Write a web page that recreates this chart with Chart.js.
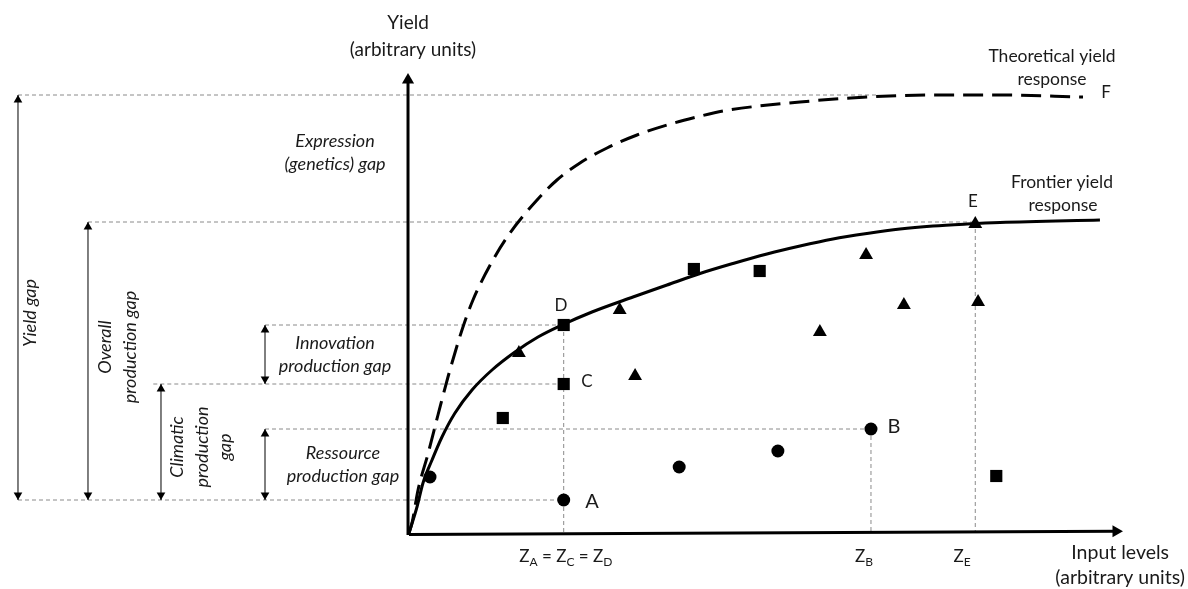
<!DOCTYPE html>
<html><head><meta charset="utf-8">
<script src="https://cdn.jsdelivr.net/npm/chart.js@4"></script>
<style>html,body{margin:0;padding:0;background:#fff}canvas{display:block}</style>
</head><body>
<canvas id="c" width="1188" height="589"></canvas>
<script>
// ---- data (arbitrary units: input level on x, yield on y) ----
const frontierX = [0, 1.14, 2.0, 3.29, 4.71, 6.57, 9.0, 11.86, 15.14, 18.43, 21.86, 26.14, 32.0, 36.86, 41.57, 46.29, 51.14, 55.86, 60.57, 65.43, 70.14, 74.86, 79.71, 84.43, 98.71];
const frontierY = [0, 5.2, 10.0, 14.6, 19.2, 24.0, 28.6, 32.6, 36.2, 39.2, 41.6, 44.2, 47.2, 49.6, 51.9, 53.9, 55.8, 57.4, 58.8, 59.9, 60.8, 61.4, 61.8, 62.1, 62.6];
const theoX = [0, 0.43, 1.29, 2.71, 4.14, 5.57, 7.57, 9.14, 12.0, 14.43, 18.29, 21.14, 24.43, 28.29, 32.57, 36.86, 41.14, 44.86, 55.86, 65.43, 74.86, 84.43, 96.29];
const theoY = [0, 2.0, 8.6, 15.8, 23.6, 31.2, 40.6, 46.6, 54.6, 60.0, 66.6, 70.6, 74.0, 77.0, 79.6, 81.6, 83.2, 84.4, 86.2, 87.2, 87.6, 87.6, 87.2];
const circleX = [3.0, 22.1, 38.6, 52.7, 66.0];
const circleY = [11.2, 6.6, 13.2, 16.4, 20.8];
const squareX = [13.4, 22.1, 22.1, 40.7, 50.1, 83.9];
const squareY = [23.0, 29.8, 41.6, 52.8, 52.4, 11.4];
const triangleX = [15.7, 30.1, 32.3, 58.7, 65.3, 70.7, 80.9, 81.3];
const triangleY = [36.0, 44.6, 31.4, 40.2, 55.6, 45.6, 61.8, 46.2];
// yield levels of reference points
const levelF = 87.6, levelE = 62.2, levelD = 41.6, levelC = 29.8, levelB = 20.8, levelA = 6.6;
// input levels
const zAD = 22.1, zB = 66.0, zE = 80.9;
// axis extents
const xAxisEnd = 102, yAxisEnd = 92;
// gap brackets: [x, from level, to level]
const gapYield = [-55.86, levelA, levelF];
const gapOverall = [-45.86, levelA, levelE];
const gapClimatic = [-35.43, levelA, levelC];
const gapInnovation = [-20.57, levelC, levelD];
const gapResource = [-20.57, levelA, levelB];

const pts = (xs, ys) => xs.map((x, i) => ({x, y: ys[i]}));

const datasets = [];
// axes
datasets.push({data: [{x: 0, y: -0.3}, {x: xAxisEnd - 1, y: 0.35}], showLine: true, borderColor: '#000', borderWidth: 3, pointRadius: [0, 7], pointStyle: 'triangle', pointRotation: 90, backgroundColor: '#000', pointBorderWidth: 0, order: 0});
datasets.push({data: [{x: -0.14, y: -0.4}, {x: -0.14, y: yAxisEnd - 1.4}], showLine: true, borderColor: '#000', borderWidth: 3, pointRadius: [0, 7], pointStyle: 'triangle', pointRotation: 0, backgroundColor: '#000', pointBorderWidth: 0, order: 0});
// curves
datasets.push({data: pts(frontierX, frontierY), showLine: true, borderColor: '#000', borderWidth: 3, pointRadius: 0, cubicInterpolationMode: 'monotone', order: 2});
datasets.push({data: pts(theoX, theoY), showLine: true, borderColor: '#000', borderWidth: 3, borderDash: [20, 9], pointRadius: 0, cubicInterpolationMode: 'monotone', order: 2});
// markers
datasets.push({data: pts(circleX, circleY), pointStyle: 'circle', pointRadius: 6.5, backgroundColor: '#000', pointBorderWidth: 0, order: 1});
datasets.push({data: pts(squareX, squareY), pointStyle: 'rect', pointRadius: 8.6, backgroundColor: '#000', pointBorderWidth: 0, order: 1});
datasets.push({data: pts(triangleX, triangleY), pointStyle: 'triangle', pointRadius: 8, backgroundColor: '#000', pointBorderWidth: 0, order: 1});
// guide lines
const guides = [
  [[gapYield[0], levelF], [67, levelF]],
  [[gapOverall[0], levelE], [zE, levelE]],
  [[gapInnovation[0], levelD], [zAD, levelD]],
  [[gapClimatic[0] - 1.1, levelC], [zAD, levelC]],
  [[gapResource[0], levelB], [zB, levelB]],
  [[gapYield[0], levelA], [zAD, levelA]],
  [[zAD, levelD], [zAD, 0]],
  [[zB, levelB], [zB, 0.2]],
  [[zE, levelE], [zE, 0.3]]
];
guides.forEach(g => datasets.push({data: g.map(p => ({x: p[0], y: p[1]})), showLine: true, borderColor: '#8a8a8a', borderWidth: 1, borderDash: [4, 3], pointRadius: 0, order: 5}));
// gap arrows
[gapYield, gapOverall, gapClimatic, gapInnovation, gapResource].forEach(g => {
  datasets.push({data: [{x: g[0], y: g[1]}, {x: g[0], y: g[2]}], showLine: true, borderColor: '#000', borderWidth: 1, pointRadius: 0, order: 3});
  datasets.push({data: [{x: g[0], y: g[1] + 1}, {x: g[0], y: g[2] - 1}], pointStyle: 'triangle', pointRadius: 5, pointRotation: [180, 0], backgroundColor: '#000', pointBorderWidth: 0, order: 3});
});

// ---- text annotations (positions in data units) ----
const FONT = 'Lato, "Open Sans", sans-serif';
const texts = [
  {t: 'Yield', x: -0.14, y: 102, s: 19},
  {t: '(arbitrary units)', x: 0.57, y: 96.6, s: 19},
  {t: 'Input levels', x: 101.6, y: -4.0, s: 19.5},
  {t: '(arbitrary units)', x: 101.6, y: -9.0, s: 19.5},
  {t: 'Theoretical yield', x: 91.86, y: 95.4, s: 17.5},
  {t: 'response', x: 91.86, y: 90.8, s: 17.5},
  {t: 'Frontier yield', x: 93.29, y: 70.2, s: 17.5},
  {t: 'response', x: 93.43, y: 65.6, s: 17.5},
  {t: 'F', x: 99.57, y: 88.0, s: 17},
  {t: 'E', x: 80.57, y: 66.2, s: 17},
  {t: 'D', x: 21.71, y: 45.4, s: 17},
  {t: 'C', x: 25.43, y: 30.2, s: 17},
  {t: 'A', x: 26.14, y: 6.2, s: 20},
  {t: 'B', x: 69.29, y: 21.2, s: 20},
  {t: 'Expression', x: -10.57, y: 78.4, s: 18, i: true},
  {t: '(genetics) gap', x: -10.57, y: 73.8, s: 18, i: true},
  {t: 'Innovation', x: -10.57, y: 38.0, s: 18, i: true},
  {t: 'production gap', x: -10.57, y: 33.4, s: 18, i: true},
  {t: 'Ressource', x: -9.43, y: 16.0, s: 18, i: true},
  {t: 'production gap', x: -9.43, y: 11.4, s: 18, i: true},
  {t: 'Yield gap', x: -54.14, y: 44.0, s: 18, i: true, r: true},
  {t: 'Overall', x: -43.43, y: 37.2, s: 18, i: true, r: true},
  {t: 'production gap', x: -39.86, y: 37.2, s: 18, i: true, r: true},
  {t: 'Climatic', x: -33.14, y: 17.2, s: 18, i: true, r: true},
  {t: 'production', x: -29.57, y: 17.2, s: 18, i: true, r: true},
  {t: 'gap', x: -26.29, y: 17.2, s: 18, i: true, r: true}
];
const richTexts = [
  {parts: [['Z'], ['A', 1], [' = Z'], ['C', 1], [' = Z'], ['D', 1]], x: zAD + 0.3, y: -4.8, s: 17},
  {parts: [['Z'], ['B', 1]], x: zB - 1.0, y: -4.8, s: 17},
  {parts: [['Z'], ['E', 1]], x: zE - 1.9, y: -4.8, s: 17}
];

const textPlugin = {
  id: 'texts',
  afterDraw(chart) {
    const ctx = chart.ctx, xs = chart.scales.x, ys = chart.scales.y;
    ctx.save();
    ctx.fillStyle = '#1a1a1a';
    ctx.textAlign = 'center';
    ctx.textBaseline = 'middle';
    texts.forEach(o => {
      const px = xs.getPixelForValue(o.x), py = ys.getPixelForValue(o.y);
      ctx.font = (o.i ? 'italic ' : '') + o.s + 'px ' + FONT;
      if (o.r) {
        ctx.save(); ctx.translate(px, py); ctx.rotate(-Math.PI / 2); ctx.fillText(o.t, 0, 0); ctx.restore();
      } else ctx.fillText(o.t, px, py);
    });
    ctx.textAlign = 'left';
    richTexts.forEach(o => {
      const big = o.s + 'px ' + FONT, small = Math.round(o.s * 0.68) + 'px ' + FONT;
      let w = 0;
      o.parts.forEach(p => { ctx.font = p[1] ? small : big; w += ctx.measureText(p[0]).width; });
      let cx = xs.getPixelForValue(o.x) - w / 2; const py = ys.getPixelForValue(o.y);
      o.parts.forEach(p => {
        ctx.font = p[1] ? small : big;
        ctx.fillText(p[0], cx, py + (p[1] ? o.s * 0.32 : 0));
        cx += ctx.measureText(p[0]).width;
      });
    });
    ctx.restore();
  }
};

function build() {
  new Chart(document.getElementById('c'), {
    type: 'scatter',
    data: {datasets},
    options: {
      responsive: false, animation: false, devicePixelRatio: 1,
      layout: {padding: 0, autoPadding: false},
      plugins: {legend: {display: false}, tooltip: {enabled: false}},
      scales: {
        x: {type: 'linear', min: -58.43, max: 111.29, display: false},
        y: {type: 'linear', min: -11.2, max: 106.6, display: false}
      }
    },
    plugins: [textPlugin]
  });
}
Promise.all([document.fonts.load('18px Lato'), document.fonts.load('italic 18px Lato')]).then(build, build);
</script>
</body></html>
